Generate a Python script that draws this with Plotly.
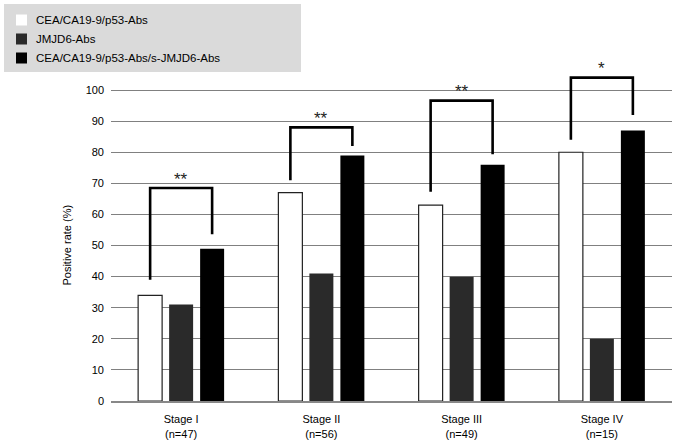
import plotly.graph_objects as go

categories = ["Stage I<br>(n=47)", "Stage II<br>(n=56)", "Stage III<br>(n=49)", "Stage IV<br>(n=15)"]
series_names = ["CEA/CA19-9/p53-Abs", "JMJD6-Abs", "CEA/CA19-9/p53-Abs/s-JMJD6-Abs"]
cea_vals = [34, 67, 63, 80]
jmjd6_vals = [31, 41, 40, 20]
combo_vals = [49, 79, 76, 87]
bracket_top = [68.5, 88, 96.6, 104]
bracket_left_end = [39, 71, 67.3, 84]
bracket_right_end = [53.6, 82, 79.4, 92]
bracket_labels = ["**", "**", "**", "*"]
y_ticks = [0, 10, 20, 30, 40, 50, 60, 70, 80, 90, 100]

colors = ["#ffffff", "#2a2a2a", "#000000"]
FONT = "Liberation Sans, Arial, Helvetica, sans-serif"

W, H = 677, 440
ML, MR, MT, MB = 111, 5, 59, 39
PW = W - ML - MR
PH = H - MT - MB
BARGAP = 0.337
SLOT = (1 - BARGAP) / 3


def px2x(px):
    return (px - ML) / PW


def py2y(py):
    return (H - MB - py) / PH


fig = go.Figure()
for name, vals, col in zip(series_names, [cea_vals, jmjd6_vals, combo_vals], colors):
    fig.add_trace(go.Bar(
        x=categories, y=vals, name=name,
        marker=dict(color=col, line=dict(color="#222222", width=1.2 if col == "#ffffff" else 0)),
        showlegend=False,
    ))

shapes = []
annotations = []
for i in range(len(categories)):
    xl = i - SLOT
    xr = i + SLOT
    shapes.append(dict(
        type="path", xref="x", yref="y",
        path=f"M {xl},{bracket_left_end[i]} L {xl},{bracket_top[i]} L {xr},{bracket_top[i]} L {xr},{bracket_right_end[i]}",
        line=dict(color="#000000", width=2.6),
    ))
    annotations.append(dict(
        x=i, y=bracket_top[i], xref="x", yref="y", text=bracket_labels[i],
        showarrow=False, yanchor="middle", yshift=9,
        font=dict(family=FONT, size=17, color="#222222"),
    ))

# legend box
shapes.append(dict(type="rect", xref="paper", yref="paper",
                   x0=px2x(4), x1=px2x(301), y0=py2y(72), y1=py2y(4),
                   fillcolor="#dadada", line=dict(width=0), layer="below"))
for k, (name, col) in enumerate(zip(series_names, colors)):
    cy = 20 + k * 19
    shapes.append(dict(type="rect", xref="paper", yref="paper",
                       x0=px2x(16), x1=px2x(27), y0=py2y(cy + 5.5), y1=py2y(cy - 5.5),
                       fillcolor=col, line=dict(width=0)))
    annotations.append(dict(x=px2x(34), y=py2y(cy), xref="paper", yref="paper",
                            text=name, showarrow=False, xanchor="left", yanchor="middle",
                            font=dict(family=FONT, size=11.5, color="#000000")))

annotations.append(dict(x=px2x(67), y=50, xref="paper", yref="y", text="Positive rate (%)",
                        textangle=-90, showarrow=False, xanchor="center", yanchor="middle",
                        font=dict(family=FONT, size=11, color="#000000")))

fig.update_layout(
    width=W, height=H,
    margin=dict(l=ML, r=MR, t=MT, b=MB),
    paper_bgcolor="white", plot_bgcolor="white",
    barmode="group", bargap=BARGAP, bargroupgap=0.226,
    font=dict(family=FONT, size=11, color="#000000"),
    shapes=shapes, annotations=annotations,
    showlegend=False,
)
fig.update_xaxes(showgrid=False, showline=True, linecolor="#888888", linewidth=2,
                 ticks="", ticklabelstandoff=7, automargin=False,
                 tickfont=dict(family=FONT, size=11, color="#000000"))
fig.update_yaxes(range=[0, 110], tickvals=y_ticks, showgrid=True, gridcolor="#808080",
                 gridwidth=1.2, zeroline=False, showline=False, ticks="",
                 ticklabelstandoff=6, automargin=False,
                 tickfont=dict(family=FONT, size=11, color="#000000"))

fig.write_html("out.html", config={"displayModeBar": False},
               post_script="document.body.style.margin='0';document.body.style.overflow='hidden';")
